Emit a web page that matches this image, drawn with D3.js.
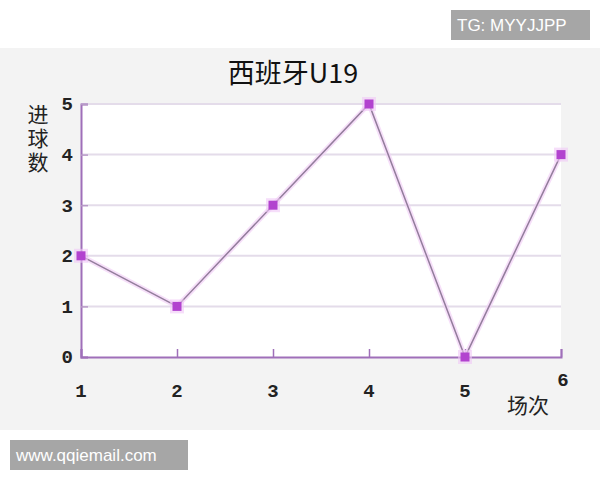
<!DOCTYPE html>
<html>
<head>
<meta charset="utf-8">
<script src="https://cdn.jsdelivr.net/npm/d3@7"></script>
<style>
  html, body { margin: 0; padding: 0; background: #fff; }
  svg { display: block; }
</style>
</head>
<body>
<svg id="chart" width="600" height="480"></svg>
<script>
// match numbers and goals scored
const matches = [1, 2, 3, 4, 5, 6];
const goals = [2, 1, 3, 5, 0, 4];
const yTicks = [0, 1, 2, 3, 4, 5];
const title = '西班牙U19';
const yLabel = '进球数';
const xLabel = '场次';

(function (d) {
  const width = 600, height = 480;
  const margin = {top: 104, right: 39, bottom: 123, left: 81};
  const cjk = '"SimSun", "Noto Sans CJK SC", sans-serif';
  const num = '"Liberation Mono", monospace';

  const svg = d3.select('#chart');

  // grey panel behind the chart
  svg.append('rect')
    .attr('x', 0).attr('y', 48)
    .attr('width', width).attr('height', 382)
    .attr('fill', '#f3f3f3');

  const x = d3.scaleLinear()
    .domain(d3.extent(matches))
    .range([margin.left, width - margin.right]);

  const y = d3.scaleLinear()
    .domain([0, d3.max(yTicks)])
    .range([height - margin.bottom, margin.top]);

  // white plot area
  svg.append('rect')
    .attr('x', x.range()[0]).attr('y', y(5))
    .attr('width', x.range()[1] - x.range()[0])
    .attr('height', y(0) - y(5))
    .attr('fill', '#fff');

  // gridlines
  svg.append('g')
    .selectAll('line')
    .data(yTicks.filter(t => t > 0))
    .enter().append('line')
    .attr('x1', x.range()[0]).attr('x2', x.range()[1])
    .attr('y1', t => y(t)).attr('y2', t => y(t))
    .attr('stroke', '#e4dcea')
    .attr('stroke-width', 2);

  const axisColor = '#9f6fb9';

  const yAxis = g => g
    .attr('transform', `translate(${margin.left},0)`)
    .call(d3.axisRight(y).tickValues(yTicks).tickSize(7).tickFormat(''))
    .call(g => g.select('.domain').attr('stroke', axisColor).attr('stroke-width', 2))
    .call(g => g.selectAll('.tick line').attr('stroke', '#b79ac7').attr('stroke-width', 1.5));

  const xAxis = g => g
    .attr('transform', `translate(0,${height - margin.bottom})`)
    .call(d3.axisTop(x).tickValues(matches).tickSize(8).tickFormat(''))
    .call(g => g.select('.domain').attr('stroke', axisColor).attr('stroke-width', 2))
    .call(g => g.selectAll('.tick line').attr('stroke', axisColor).attr('stroke-width', 1.5));

  svg.append('g').call(yAxis);
  svg.append('g').call(xAxis);

  // y tick labels
  svg.append('g')
    .attr('font-family', num)
    .attr('font-size', 19)
    .attr('font-weight', 'bold')
    .attr('fill', '#222')
    .attr('text-anchor', 'end')
    .selectAll('text')
    .data(yTicks)
    .enter().append('text')
    .attr('x', margin.left - 8)
    .attr('y', t => y(t))
    .attr('dy', '0.34em')
    .text(t => t);

  // x tick labels (the last one sits higher)
  svg.append('g')
    .attr('font-family', num)
    .attr('font-size', 19)
    .attr('font-weight', 'bold')
    .attr('fill', '#222')
    .attr('text-anchor', 'middle')
    .selectAll('text')
    .data(matches)
    .enter().append('text')
    .attr('x', m => x(m) + (m === 6 ? 2 : 0))
    .attr('y', m => m === 6 ? 386 : 397)
    .text(m => m);

  // title
  svg.append('text')
    .attr('x', 293).attr('y', 83)
    .attr('text-anchor', 'middle')
    .attr('font-family', cjk)
    .attr('font-size', 27)
    .attr('fill', '#111')
    .text(title);

  // y axis label, written top to bottom
  svg.append('text')
    .attr('x', 38).attr('y', 104)
    .attr('writing-mode', 'vertical-rl')
    .attr('letter-spacing', 3)
    .attr('font-family', cjk)
    .attr('font-size', 21)
    .attr('fill', '#222')
    .text(yLabel);

  svg.append('text')
    .attr('x', 528).attr('y', 413)
    .attr('text-anchor', 'middle')
    .attr('font-family', cjk)
    .attr('font-size', 21)
    .attr('fill', '#222')
    .text(xLabel);

  // the line
  const line = d3.line()
    .x((v, i) => x(matches[i]))
    .y(v => y(v));

  svg.append('path')
    .attr('d', line(goals))
    .attr('fill', 'none')
    .attr('stroke', '#f2d2f6')
    .attr('stroke-width', 5)
    .attr('opacity', 0.7);

  svg.append('path')
    .attr('d', line(goals))
    .attr('fill', 'none')
    .attr('stroke', '#937d9c')
    .attr('stroke-width', 1.5);

  // markers
  const pts = svg.append('g')
    .selectAll('g')
    .data(goals)
    .enter().append('g')
    .attr('transform', (v, i) => `translate(${x(matches[i])},${y(v)})`);

  pts.append('rect')
    .attr('x', -7).attr('y', -7)
    .attr('width', 14).attr('height', 14)
    .attr('fill', '#f0c8f6')
    .attr('opacity', 0.6);

  pts.append('rect')
    .attr('x', -4.5).attr('y', -4.5)
    .attr('width', 9).attr('height', 9)
    .attr('fill', '#b243cf');

  // watermark boxes
  const badge = (bx, by, bw, bh, label, size) => {
    svg.append('rect')
      .attr('x', bx).attr('y', by)
      .attr('width', bw).attr('height', bh)
      .attr('fill', '#a6a6a6');
    svg.append('text')
      .attr('x', bx + 6).attr('y', by + bh / 2)
      .attr('dy', '0.36em')
      .attr('font-family', '"Liberation Sans", Arial, sans-serif')
      .attr('font-size', size)
      .attr('fill', '#fff')
      .text(label);
  };

  badge(451, 10, 139, 30, 'TG: MYYJJPP', 17);
  badge(10, 440, 178, 30, 'www.qqiemail.com', 17);
}(document));
</script>
</body>
</html>
